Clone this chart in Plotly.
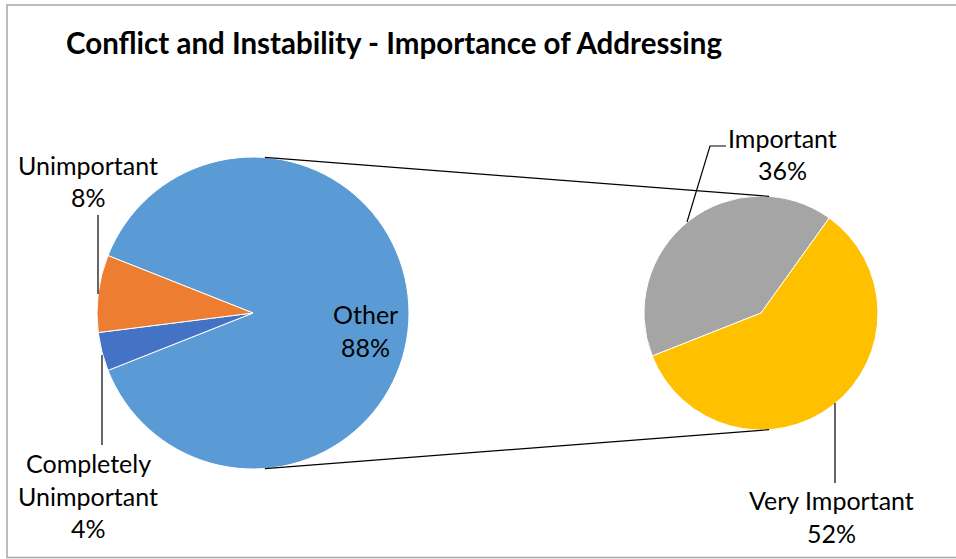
import math
import plotly.graph_objects as go

# ---- data ----
main_labels = ["Other", "Completely Unimportant", "Unimportant"]
main_values = [88, 4, 8]
main_colors = ["#5B9BD5", "#4472C4", "#ED7D31"]

sub_labels = ["Important", "Very Important"]
sub_values = [36, 52]
sub_colors = ["#A5A5A5", "#FFC000"]

title_text = "Conflict and Instability - Importance of Addressing"

# ---- canvas geometry (pixels) ----
W, H = 956, 559
FONT = "Lato, Carlito, Calibri, sans-serif"


def px(x):
    return x / W


def py(y):
    return 1 - y / H


# left (primary) pie and right (secondary) pie centres / radii
cxL, cyL, rL = 253, 313, 156
cxR, cyR, rR = 761, 313, 117

# the small slices are centred on 9 o'clock
small_share = (main_values[1] + main_values[2]) / sum(main_values) * 360
rot_main = 270 + small_share / 2
rot_sub = 270 - small_share / 2

fig = go.Figure()

fig.add_trace(go.Pie(
    labels=main_labels, values=main_values, sort=False,
    direction="clockwise", rotation=rot_main,
    marker=dict(colors=main_colors, line=dict(color="white", width=1)),
    textinfo="none", hoverinfo="label+percent", showlegend=False,
    domain=dict(x=[px(cxL - rL), px(cxL + rL)], y=[py(cyL + rL), py(cyL - rL)]),
))

fig.add_trace(go.Pie(
    labels=sub_labels, values=sub_values, sort=False,
    direction="clockwise", rotation=rot_sub,
    marker=dict(colors=sub_colors, line=dict(color="white", width=1)),
    textinfo="none", hoverinfo="label+value", showlegend=False,
    domain=dict(x=[px(cxR - rR), px(cxR + rR)], y=[py(cyR + rR), py(cyR - rR)]),
))

shapes = []

# chart border
shapes.append(dict(type="rect", xref="paper", yref="paper",
                   x0=px(7), x1=px(W + 10), y0=py(557.5), y1=py(5),
                   line=dict(color="#A6A6A6", width=1.5), fillcolor="rgba(0,0,0,0)"))

# connector lines between the two pies
aL, aR = math.radians(4.4), math.radians(4.0)
for s in (-1, 1):
    x0 = cxL + rL * math.sin(aL)
    y0 = cyL + s * rL * math.cos(aL)
    x1 = cxR + rR * math.sin(aR)
    y1 = cyR + s * rR * math.cos(aR)
    shapes.append(dict(type="line", xref="paper", yref="paper",
                       x0=px(x0), y0=py(y0), x1=px(x1), y1=py(y1),
                       line=dict(color="black", width=1.2)))


def leader(points):
    path = "M " + " L ".join(f"{px(x)},{py(y)}" for x, y in points)
    shapes.append(dict(type="path", xref="paper", yref="paper", path=path,
                       line=dict(color="black", width=1.2)))


leader([(98, 215), (98, 294)])                 # Unimportant
leader([(102, 355), (102, 445)])               # Completely Unimportant
leader([(687, 222), (710, 146), (726, 146)])   # Important
leader([(835, 403), (835, 483)])               # Very Important

annotations = []


def label(lines, cx, y_first, step=32.5, size=25):
    for i, t in enumerate(lines):
        annotations.append(dict(
            x=px(cx), y=py(y_first + i * step), xref="paper", yref="paper",
            text=t, showarrow=False, xanchor="center", yanchor="middle",
            font=dict(family=FONT, size=size, color="black")))


def pct(v):
    return f"{v}%"


label(["Other", pct(main_values[0])], 365, 314)
label(["Completely", "Unimportant", pct(main_values[1])], 88, 463)
label([main_labels[2], pct(main_values[2])], 88, 165)
label([sub_labels[0], pct(sub_values[0])], 782, 138)
label(["Very Important", pct(sub_values[1])], 831, 500)

# title
annotations.append(dict(
    x=px(64), y=py(42), xref="paper", yref="paper", text=f"<b>{title_text}</b>",
    showarrow=False, xanchor="left", yanchor="middle",
    font=dict(family=FONT, size=29.5, color="black")))

fig.update_layout(
    width=W, height=H, margin=dict(l=0, r=0, t=0, b=0),
    paper_bgcolor="white", plot_bgcolor="white",
    shapes=shapes, annotations=annotations,
)

fig.write_html("out.html")
